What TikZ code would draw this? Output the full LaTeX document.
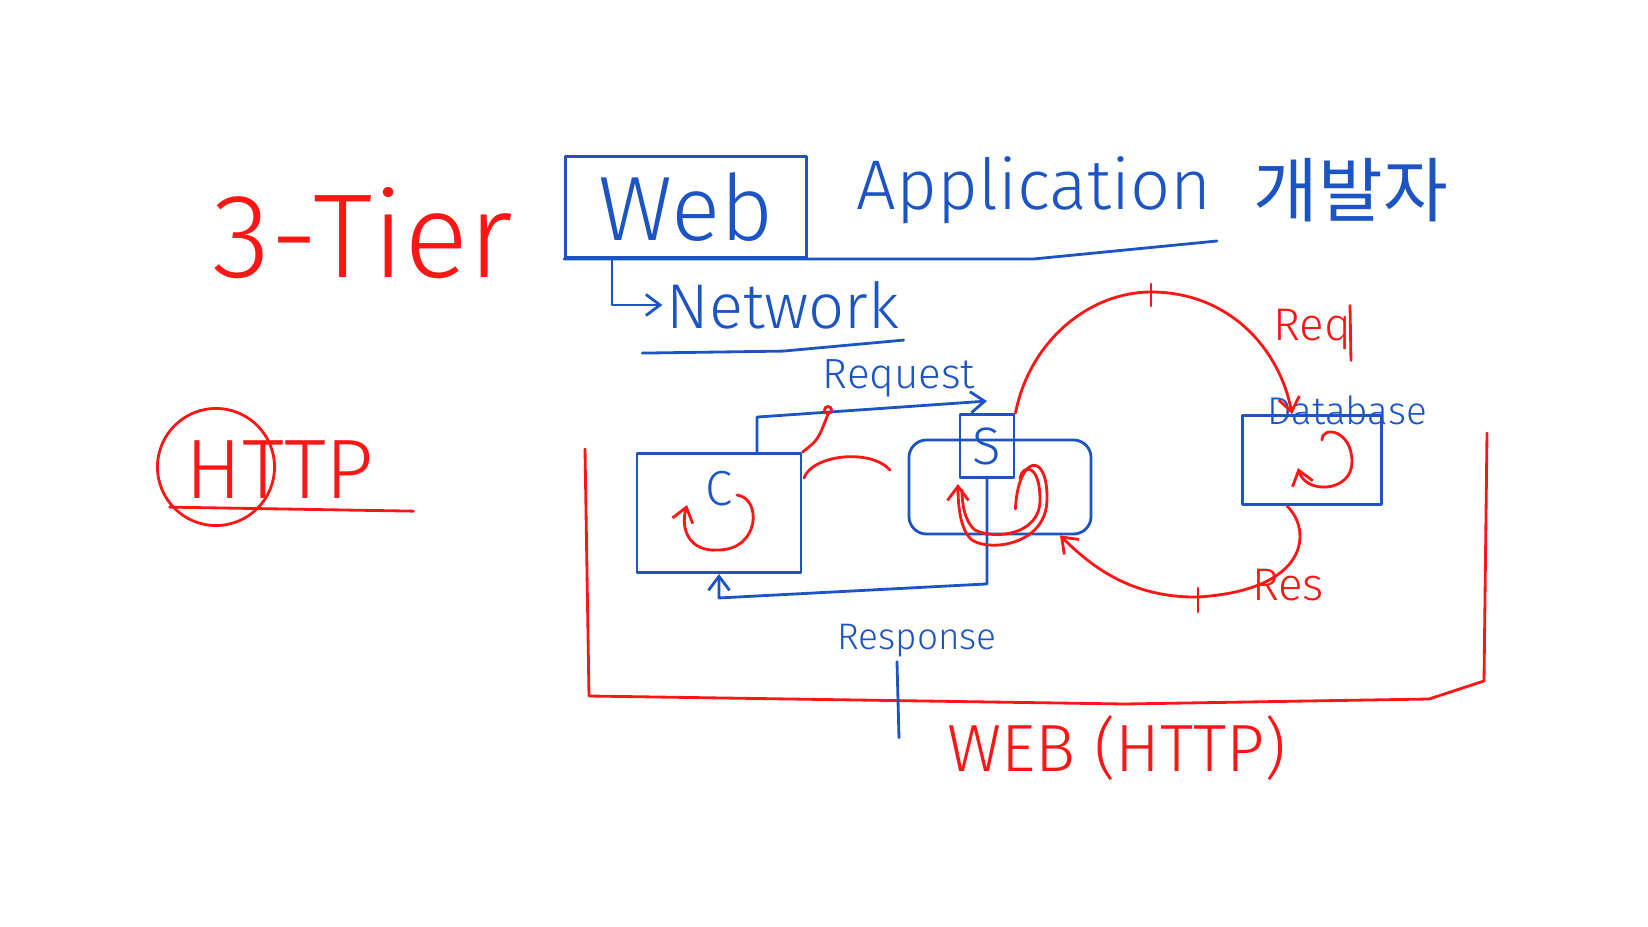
\documentclass[tikz,border=0pt]{standalone}
\usepackage{fontspec}
\setmainfont{Fira Sans Light}
\newfontfamily\kofont{Noto Sans CJK KR}
\usepackage{tikz}
\usetikzlibrary{arrows.meta}
\usetikzlibrary{positioning}
\usetikzlibrary{calc}
\definecolor{penblue}{RGB}{28,84,196}
\definecolor{penred}{RGB}{252,22,22}

\begin{document}
\begin{tikzpicture}[
    x=0.01cm, y=-0.01cm,
    pen/.style={line width=0.8pt, line cap=round, line join=round},
    bline/.style={pen, draw=penblue},
    rline/.style={pen, draw=penred},
    box/.style={bline, inner sep=0pt},
    bnote/.style={text=penblue, inner sep=1pt},
    rnote/.style={text=penred, inner sep=1pt},
    barb/.style={-{Straight Barb[length=4pt,width=6pt]}}
]
\useasboundingbox (0,0) rectangle (1648,927);

\node[rnote, font=\fontsize{34}{34}\selectfont] (tier) at (363,233) {3-Tier};

\node[box, minimum width=2.41cm, minimum height=1.01cm,
      font=\fontsize{26}{26}\selectfont, text=penblue] (web) at (686,207) {Web};
\node[bnote, font=\fontsize{20}{20}\selectfont] (app) at (1034,190) {Application};
\node[bnote, font=\kofont\fontsize{20}{20}\selectfont, right=0.34cm of app] (dev) {개발자};
\coordinate (lineend) at (1217,241);
\draw[bline] (web.south west) -- (web.south -| app.center) -- (lineend);

\node[bnote, font=\fontsize{18}{18}\selectfont] (net) at (783,305) {Network};
\draw[bline, barb] ([xshift=0.48cm]web.south west) |- (net.west);
\draw[bline] ([xshift=-0.2cm,yshift=-0.2cm]net.south west) -- ([yshift=-0.18cm]net.south) -- ([yshift=-0.07cm]net.south east);

\node[rnote, font=\fontsize{24}{24}\selectfont] (http) at (280,470) {HTTP};
\node[rline, circle, minimum size=1.17cm] (ring) at (216,467) {};
\draw[rline] ([xshift=-0.12cm,yshift=-0.04cm]http.south west) -- ([xshift=0.35cm,yshift=-0.08cm]http.south east);

\coordinate (wl) at (585,449);
\coordinate (wr) at (1487,433);
\draw[rline] (wl) -- (589,696) -- (1125,704) -- (1429,699) -- (1484,681) -- (wr);
\node[rnote, font=\fontsize{19}{19}\selectfont] (webhttp) at (1117,748) {WEB (HTTP)};

\node[box, minimum width=1.64cm, minimum height=1.19cm] (client) at (719,513) {};
\node[bnote, font=\fontsize{14}{14}\selectfont, below=0.15cm of client.north] (cname) {C};
\draw[rline, barb] (737,495) .. controls (762,498) and (760,550) .. (718,550) .. controls (690,552) and (680,530) .. (687,505);

\node[box, minimum width=1.82cm, minimum height=0.94cm, rounded corners=5pt] (server) at (1000,487) {};
\node[box, minimum width=0.54cm, minimum height=0.63cm,
      font=\fontsize{15}{15}\selectfont, text=penblue] (srv) at (987,446) {S};
\draw[bline, barb] ([xshift=0.38cm]client.north) -- ++(0,-35) -- ([yshift=0.12cm]srv.north);
\node[bnote, font=\fontsize{12}{12}\selectfont] (reqtxt) at (899,378) {Request};

\draw[rline] (client.north east) .. controls (818,440) .. (828,414);
\draw[rline] (828,410) circle[radius=0.035cm];
\draw[rline] (804,478) .. controls (812,455) and (870,448) .. (890,470);

\draw[bline, barb] (srv.south) -- ++(0,105) -- ([yshift=-0.24cm]client.south) -- (client.south);
\node[bnote, font=\fontsize{10.5}{10.5}\selectfont] (resp) at (917,641) {Response};
\draw[bline] ([xshift=-0.2cm]resp.south) -- ++(2,76);

\node[box, minimum width=1.39cm, minimum height=0.89cm] (db) at (1312,460) {};
\node[bnote, font=\fontsize{11}{11}\selectfont] (dbname) at ([xshift=0.35cm,yshift=0.04cm]db.north) {Database};

\coordinate (reqtop) at (1151,292);
\draw[rline, barb] (srv.north east) .. controls (1030,340) and (1090,292) .. (reqtop)
    .. controls (1230,292) and (1280,350) .. ([xshift=-0.2cm]db.north);
\draw[rline] (reqtop) ++(0,-8) -- ++(0,22);
\node[rnote, font=\fontsize{13}{13}\selectfont] (reqlbl) at (1312,330) {Req};
\draw[rline] ([xshift=-0.05cm]reqlbl.north east) -- ++(1,55);

\coordinate (resbot) at (1198,597);
\draw[rline, barb] ([xshift=-0.25cm]db.south) .. controls (1312,530) and (1310,590) .. (resbot)
    .. controls (1130,598) and (1090,565) .. ([xshift=0.6cm]server.south);
\draw[rline] (resbot) ++(0,-9) -- ++(0,24);
\node[rnote, font=\fontsize{13}{13}\selectfont] (reslbl) at (1288,585) {Res};

\draw[rline, barb] (1322,440) .. controls (1322,425) and (1352,430) .. (1352,462)
    .. controls (1352,492) and (1306,495) .. (1298,468);

\draw[rline, barb] ([yshift=-0.3cm]srv.south east) .. controls (1018,455) and (1048,450) .. (1047,500)
    .. controls (1046,545) and (990,552) .. (972,540) .. controls (960,530) and (958,505) .. (958,484);
\draw[rline] (1020,478) .. controls (1022,465) and (1040,462) .. (1040,500)
    .. controls (1040,535) and (995,540) .. (975,530) .. controls (965,522) and (962,505) .. (962,490);
\end{tikzpicture}
\end{document}
